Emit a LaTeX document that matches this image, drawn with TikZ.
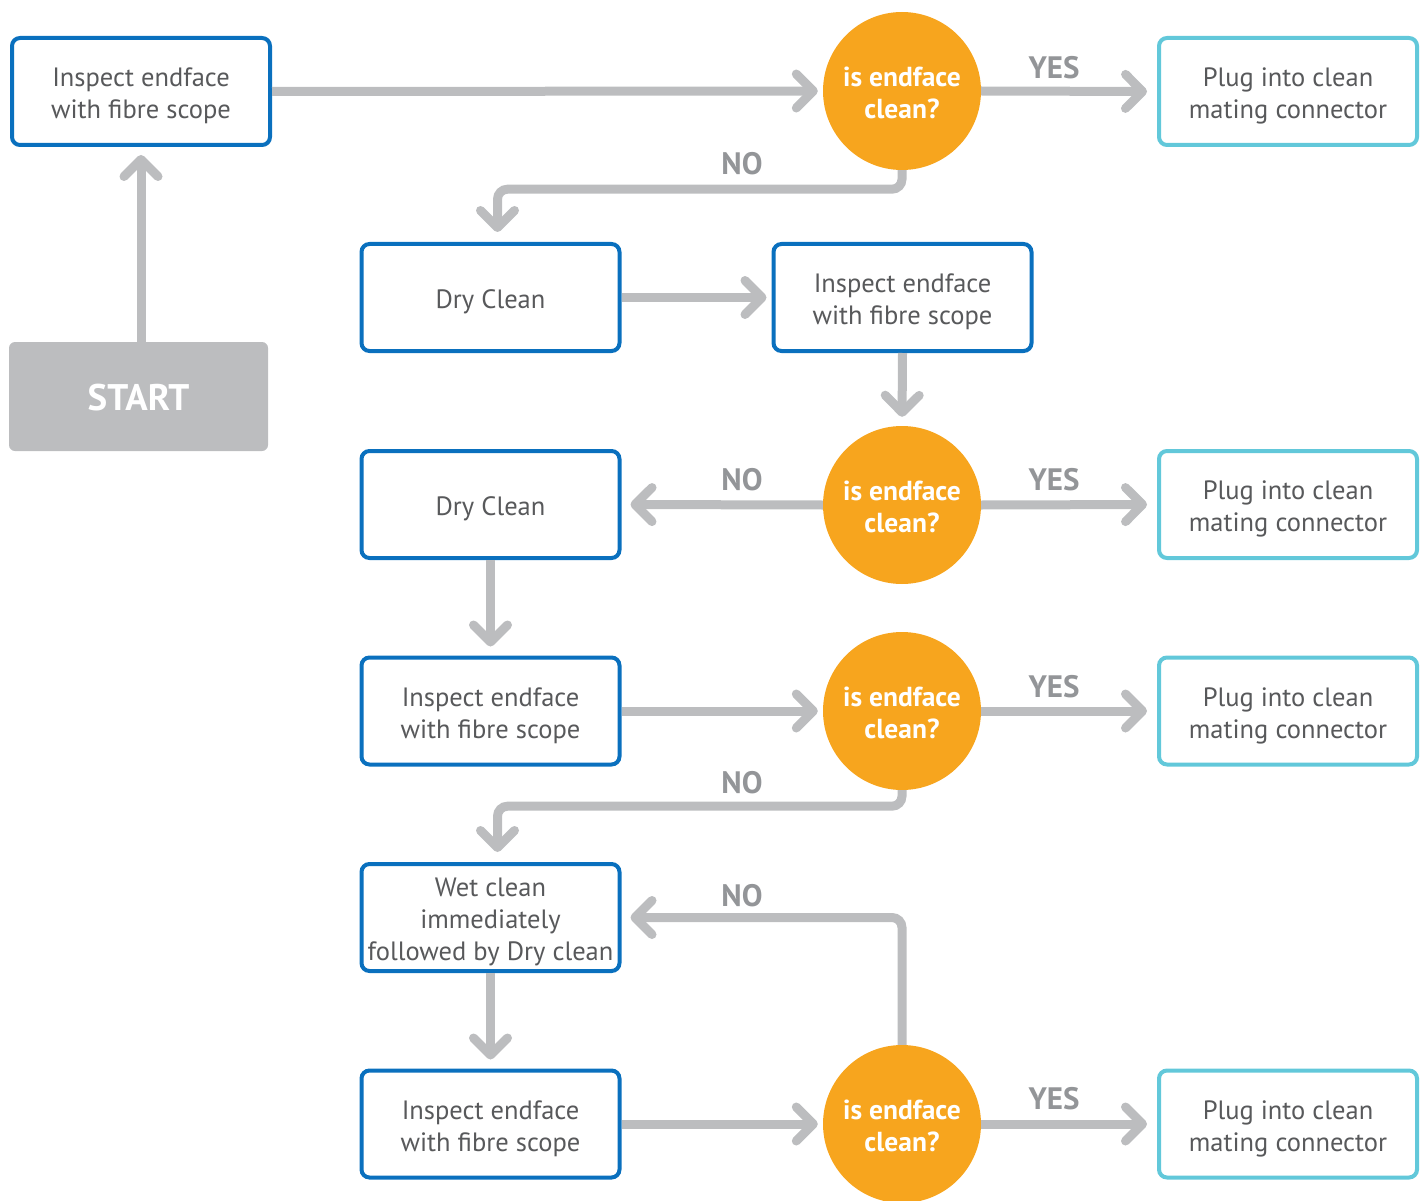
\documentclass[tikz,border=0pt]{standalone}
\usepackage{fontspec}
\setmainfont{PT Sans}
\usetikzlibrary{arrows.meta,calc}
\definecolor{boxblue}{HTML}{0A70BE}
\definecolor{boxcyan}{HTML}{62C8DA}
\definecolor{decor}{HTML}{F7A51E}
\definecolor{arrgray}{HTML}{BCBDBF}
\definecolor{lblgray}{HTML}{939598}
\definecolor{txtgray}{HTML}{58595B}
\newcommand\lowtext[2]{\raisebox{-#1}[\height][\depth]{\begin{tabular}{@{}c@{}}#2\end{tabular}}}
\tikzset{
  stepbox/.style={rectangle, rounded corners=8pt, draw=boxblue, line width=4pt, fill=white,
    minimum width=258pt, minimum height=107pt, text=txtgray,
    font=\fontsize{26.5}{32}\selectfont},
  plugbox/.style={stepbox, draw=boxcyan},
  startbox/.style={rectangle, rounded corners=6pt, fill=arrgray, minimum width=259pt, minimum height=109pt,
    text=white, font=\fontsize{37}{40}\selectfont\bfseries},
  question/.style={circle, fill=decor, minimum size=158pt, inner sep=0pt, text=white,
    font=\fontsize{27.5}{32}\selectfont\bfseries},
  arr/.style={draw=arrgray, line width=9pt, rounded corners=10pt,
    -{Straight Barb[length=17pt, width=34pt, round]}},
  lbl/.style={text=lblgray, font=\fontsize{31}{32}\selectfont\bfseries},
}
\begin{document}
\begin{tikzpicture}[x=1pt, y=-1pt]
\useasboundingbox (0,0) rectangle (1427,1201);
% row 1
\node[stepbox] (A) at (141,91.5) {\lowtext{5pt}{Inspect endface\\with fibre scope}};
\node[startbox] (S) at (138.5,396.5) {\lowtext{6pt}{START}};
\node[question] (C1) at (902,91) {\lowtext{5pt}{is endface\\clean?}};
\node[plugbox] (P1) at (1288,91.5) {\lowtext{5pt}{Plug into clean\\mating connector}};
% row 2
\node[stepbox] (D1) at (490.5,297.5) {\lowtext{5pt}{Dry Clean}};
\node[stepbox] (I2) at (902.5,297.5) {\lowtext{5pt}{Inspect endface\\with fibre scope}};
% row 3
\node[question] (C2) at (902,505) {\lowtext{5pt}{is endface\\clean?}};
\node[stepbox] (D2) at (490.5,504.5) {\lowtext{5pt}{Dry Clean}};
\node[plugbox] (P2) at (1288,504.5) {\lowtext{5pt}{Plug into clean\\mating connector}};
% row 4
\node[stepbox] (I3) at (490.5,711) {\lowtext{5pt}{Inspect endface\\with fibre scope}};
\node[question] (C3) at (902,711) {\lowtext{5pt}{is endface\\clean?}};
\node[plugbox] (P3) at (1288,711) {\lowtext{5pt}{Plug into clean\\mating connector}};
% row 5
\node[stepbox] (W) at (490.5,917.5) {\lowtext{5pt}{Wet clean\\immediately\\followed by Dry clean}};
% row 6
\node[stepbox] (I4) at (490.5,1124) {\lowtext{5pt}{Inspect endface\\with fibre scope}};
\node[question] (C4) at (902,1124) {\lowtext{5pt}{is endface\\clean?}};
\node[plugbox] (P4) at (1288,1124) {\lowtext{5pt}{Plug into clean\\mating connector}};

% connectors
\draw[arr, shorten >=8pt] (S.north -| A.south) -- (A.south);
\draw[arr, shorten >=5pt] (A.east) -- (C1.west);
\draw[arr, shorten >=10pt] (C1.east) -- (P1.west);
\node[lbl] (Y1) at (1054,68) {YES};
\draw[arr, shorten >=10pt] (C1.south) -- ++(0,19) -| ($(D1.north)+(7,0)$);
\node[lbl] (N1) at (742,164) {NO};
\draw[arr, shorten >=5pt] (D1.east) -- (I2.west);
\draw[arr, shorten >=9pt] (I2.south) -- (C2.north);
\draw[arr, shorten >=9pt] (C2.west) -- (D2.east);
\node[lbl] (N2) at (742,480) {NO};
\draw[arr, shorten >=10pt] (C2.east) -- (P2.west);
\node[lbl] (Y2) at (1054,480) {YES};
\draw[arr, shorten >=9pt] (D2.south) -- (I3.north);
\draw[arr, shorten >=5pt] (I3.east) -- (C3.west);
\draw[arr, shorten >=10pt] (C3.east) -- (P3.west);
\node[lbl] (Y3) at (1054,687) {YES};
\draw[arr, shorten >=10pt] (C3.south) -- ++(0,16) -| ($(W.north)+(7,0)$);
\node[lbl] (N3) at (742,783) {NO};
\draw[arr, shorten >=9pt] (W.south) -- (I4.north);
\draw[arr, shorten >=5pt] (I4.east) -- (C4.west);
\draw[arr, shorten >=10pt] (C4.east) -- (P4.west);
\node[lbl] (Y4) at (1054,1099) {YES};
\draw[arr, shorten >=9pt] (C4.north) |- (W.east);
\node[lbl] (N4) at (742,896) {NO};
\end{tikzpicture}
\end{document}
